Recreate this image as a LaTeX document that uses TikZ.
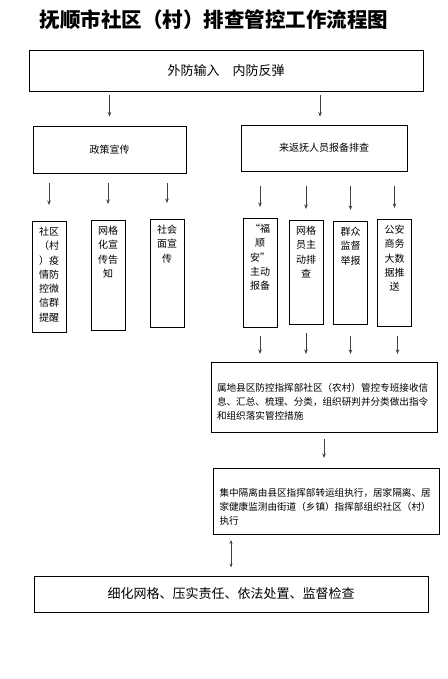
\documentclass[tikz,border=0pt]{standalone}
\usepackage{fontspec}
\newfontfamily\cjk{Noto Sans CJK SC}
\usetikzlibrary{arrows.meta}

\begin{document}
\begin{tikzpicture}[x=1pt, y=-1pt, font=\cjk\fontsize{10}{14.3}\selectfont,
 box/.style={draw, line width=0.9pt, inner sep=0pt},
 col/.style={box, anchor=north, align=center, text width=22pt, inner xsep=6pt, inner ysep=3pt, text height=11pt},
 big/.style={box, anchor=north, align=left, text width=214pt, inner xsep=6pt, inner ysep=3pt, font=\cjk\fontsize{9.6}{14}\selectfont},
 arr/.style={-{Stealth[length=4.5pt,width=3.5pt]}, line width=0.8pt, black!75},
 darr/.style={{Stealth[length=4pt,width=3pt]}-{Stealth[length=4pt,width=3pt]}, line width=0.8pt, black!75}]

 \useasboundingbox[fill=white] (0,0) rectangle (447,679);

 % --- title and input ---
 \node (title) at (214,20) {\fontsize{20.5}{24}\selectfont\bfseries 抚顺市社区（村）排查管控工作流程图};
 \node[box, minimum width=394pt, minimum height=41pt, font=\cjk\fontsize{13}{16}\selectfont] (input) at (226,70.5) {外防输入　内防反弹};

 % --- two branches ---
 \node[box, minimum width=153pt, minimum height=47pt] (policy) at (109.5,149.5) {政策宣传};
 \node[box, minimum width=166pt, minimum height=46pt] (report) at (324,148) {来返抚人员报备排查};

 \draw[arr, shorten <=4pt, shorten >=9pt] (input.south -| policy.north) -- (policy.north);
 \draw[arr, shorten <=4pt, shorten >=8pt] ([xshift=-4pt]input.south -| report.north) -- ([xshift=-4pt]report.north);

 % --- publicity columns ---
 \node[col, text depth=94pt] (wechat) at (49,221) {社区\\（村\\）疫\\情防\\控微\\信群\\提醒};
 \node[col, text depth=93pt] (grid) at (108,220) {网格\\化宣\\传告\\知};
 \node[col, text depth=91pt] (society) at (167,219) {社会\\面宣\\传};

 \foreach \c in {wechat,grid,society}
  \draw[arr, shorten <=10pt, shorten >=16pt] (policy.south -| \c.north) -- (\c.north);

 % --- checking columns ---
 \node[col, text depth=92pt] (fsa) at (260,218) {“福\\顺\\安”\\主动\\报备};
 \node[col, text depth=87pt] (gridman) at (306,220) {网格\\员主\\动排\\查};
 \node[col, text depth=86pt] (crowd) at (350.5,221) {群众\\监督\\举报};
 \node[col, text depth=90pt] (police) at (394.5,219) {公安\\商务\\大数\\据推\\送};

 \foreach \c in {fsa,gridman,crowd,police}
  \draw[arr, shorten <=15pt, shorten >=11pt] (report.south -| \c.north) -- (\c.north);

 % --- command and execution ---
 \node[big, text height=26.5pt, text depth=37.5pt] (info) at (324,362) {属地县区防控指挥部社区（农村）管控专班接收信\\息、汇总、梳理、分类，组织研判并分类做出指令\\和组织落实管控措施};

 \draw[arr, shorten <=8pt, shorten >=8pt] (fsa.south) -- (fsa.south |- info.north);
 \draw[arr, shorten <=8pt, shorten >=8pt] (gridman.south) -- (gridman.south |- info.north);
 \draw[arr, shorten <=11pt, shorten >=8pt] (crowd.south) -- (crowd.south |- info.north);
 \draw[arr, shorten <=9pt, shorten >=8pt] ([xshift=3pt]police.south) -- ([xshift=3pt]police.south |- info.north);

 \node[big, text height=25.5pt, text depth=34.5pt] (exec) at (326.5,468) {集中隔离由县区指挥部转运组执行，居家隔离、居\\家健康监测由街道（乡镇）指挥部组织社区（村）\\执行};

 \draw[arr, shorten <=6pt, shorten >=10pt] (info.south) -- (info.south |- exec.north);

 \node[box, minimum width=394pt, minimum height=36pt, font=\cjk\fontsize{13}{16}\selectfont] (final) at (231,594) {细化网格、压实责任、依法处置、监督检查};

 \draw[darr, shorten <=5pt, shorten >=8pt] (exec.south -| final.north) -- (final.north);
\end{tikzpicture}
\end{document}
